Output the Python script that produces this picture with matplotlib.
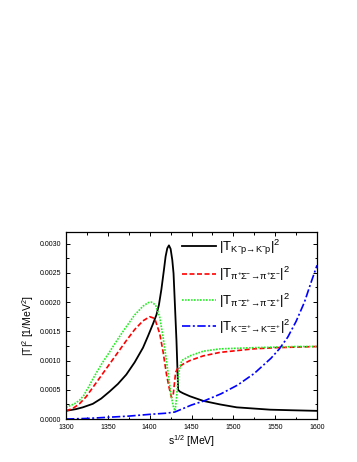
import matplotlib
matplotlib.use("Agg")
import matplotlib.pyplot as plt
from matplotlib.ticker import MultipleLocator, FormatStrFormatter

plt.rcParams['font.family'] = ['Liberation Sans', 'DejaVu Sans']
plt.rcParams['mathtext.fontset'] = 'custom'
plt.rcParams['mathtext.rm'] = 'Liberation Sans'
plt.rcParams['mathtext.it'] = 'Liberation Sans'
plt.rcParams['mathtext.bf'] = 'Liberation Sans:bold'

# Black: K^- p -> K^- p
x_kp = [1300, 1312, 1320, 1332, 1342, 1352, 1362, 1372, 1382, 1392, 1398, 1404, 1408, 1411, 1414, 1417, 1419, 1421, 1423, 1425, 1427, 1428.5, 1430, 1432, 1434, 1436, 1440, 1448, 1464, 1484, 1504, 1524, 1544, 1570, 1600]
y_kp = [0.00014, 0.00017, 0.00020, 0.00026, 0.00035, 0.00047, 0.00060, 0.00076, 0.00097, 0.00122, 0.00142, 0.00163, 0.00178, 0.00195, 0.00222, 0.00255, 0.00278, 0.00292, 0.00297, 0.00291, 0.00272, 0.00249, 0.00200, 0.00134, 0.00050, 0.00047, 0.00044, 0.00039, 0.00031, 0.00025, 0.00020, 0.00018, 0.00016, 0.00015, 0.00014]

# Red: pi+ Sigma- -> pi+ Sigma-
x_pm = [1300, 1308, 1316, 1324, 1332, 1342, 1352, 1362, 1372, 1382, 1392, 1400, 1406, 1412, 1416, 1420, 1423, 1426, 1428, 1431, 1434, 1440, 1448, 1464, 1484, 1504, 1524, 1550, 1575, 1600]
y_pm = [0.00014, 0.00018, 0.00026, 0.00038, 0.00054, 0.00074, 0.00094, 0.00114, 0.00134, 0.00153, 0.00168, 0.00175, 0.00172, 0.00146, 0.00115, 0.00077, 0.00055, 0.00037, 0.00040, 0.00080, 0.00088, 0.00094, 0.00100, 0.00108, 0.00114, 0.00117, 0.00120, 0.00122, 0.00123, 0.00124]

# Green: pi- Sigma+ -> pi- Sigma+
x_mp = [1300, 1310, 1316, 1321, 1327, 1333, 1342, 1353, 1362, 1373, 1382, 1392, 1398, 1402, 1407, 1412, 1416, 1420, 1423, 1426, 1428.5, 1430.3, 1432, 1434.3, 1438.3, 1448, 1464, 1484, 1504, 1524, 1550, 1575, 1600]
y_mp = [0.00020, 0.00026, 0.00032, 0.00040, 0.00055, 0.00071, 0.00093, 0.00117, 0.00137, 0.00160, 0.00178, 0.00193, 0.00199, 0.00200, 0.00195, 0.00174, 0.00140, 0.00100, 0.00068, 0.00037, 0.00020, 0.00014, 0.00035, 0.00077, 0.00100, 0.00108, 0.00116, 0.00120, 0.00121, 0.00122, 0.00123, 0.00124, 0.00124]

# Blue: K^- Xi^+ -> K^- Xi^+
x_kx = [1300, 1325, 1350, 1375, 1400, 1420, 1430, 1440, 1450, 1465, 1485, 1505, 1525, 1545, 1555, 1565, 1575, 1585, 1592, 1600]
y_kx = [0.0, 0.00001, 0.00003, 0.00005, 0.00008, 0.00010, 0.00012, 0.00018, 0.00024, 0.00031, 0.00043, 0.00058, 0.00078, 0.00104, 0.00120, 0.00140, 0.00167, 0.00200, 0.00230, 0.00263]

labels = [r'$|T_{K^{-}\!p\!\rightarrow\!K^{-}\!p}|^2$',
          r'$|T_{\pi^{+}\!\Sigma^{-}\!\rightarrow\!\pi^{+}\!\Sigma^{-}}|^2$',
          r'$|T_{\pi^{-}\!\Sigma^{+}\!\rightarrow\!\pi^{-}\!\Sigma^{+}}|^2$',
          r'$|T_{K^{-}\!\Xi^{+}\!\rightarrow\!K^{-}\!\Xi^{+}}|^2$']

fig = plt.figure(figsize=(3.57, 4.62), dpi=100)
ax = fig.add_axes([0.185, 0.093, 0.703, 0.405])

ax.plot(x_kp, y_kp, color='black', lw=1.3, ls='-', label=labels[0])
ax.plot(x_pm, y_pm, color='red', lw=1.2, ls=(0, (3, 1.5)), label=labels[1])
ax.plot(x_mp, y_mp, color='#22ee22', lw=1.2, ls=(0, (1, 0.8)), label=labels[2])
ax.plot(x_kx, y_kx, color='blue', lw=1.2, ls=(0, (5, 1.5, 1.2, 1.5)), label=labels[3])

ax.set_xlim(1300, 1600)
ax.set_ylim(0, 0.0032)
ax.xaxis.set_major_locator(MultipleLocator(50))
ax.xaxis.set_minor_locator(MultipleLocator(25))
ax.yaxis.set_major_locator(MultipleLocator(0.0005))
ax.yaxis.set_minor_locator(MultipleLocator(0.00025))
ax.yaxis.set_major_formatter(FormatStrFormatter('%.4f'))
ax.tick_params(which='both', direction='in', top=True, right=True, labelsize=5, width=0.7)
ax.tick_params(which='major', length=3)
ax.tick_params(which='minor', length=1.8)
for s in ax.spines.values():
    s.set_linewidth(0.9)

ax.set_xlabel(r'$\mathregular{s^{1/2}}$ [MeV]', fontsize=7.5, labelpad=2)
ax.set_ylabel(r'$\mathregular{|T|^2}$ [1/MeV$^\mathregular{2}$]', fontsize=7.5, labelpad=3)

leg = ax.legend(loc='upper left', bbox_to_anchor=(0.445, 0.99), frameon=False, fontsize=9.5,
                handlelength=2.6, handletextpad=0.25, labelspacing=0.62, borderaxespad=0.0,
                borderpad=0.3)

fig.savefig('out.png', dpi=100)
